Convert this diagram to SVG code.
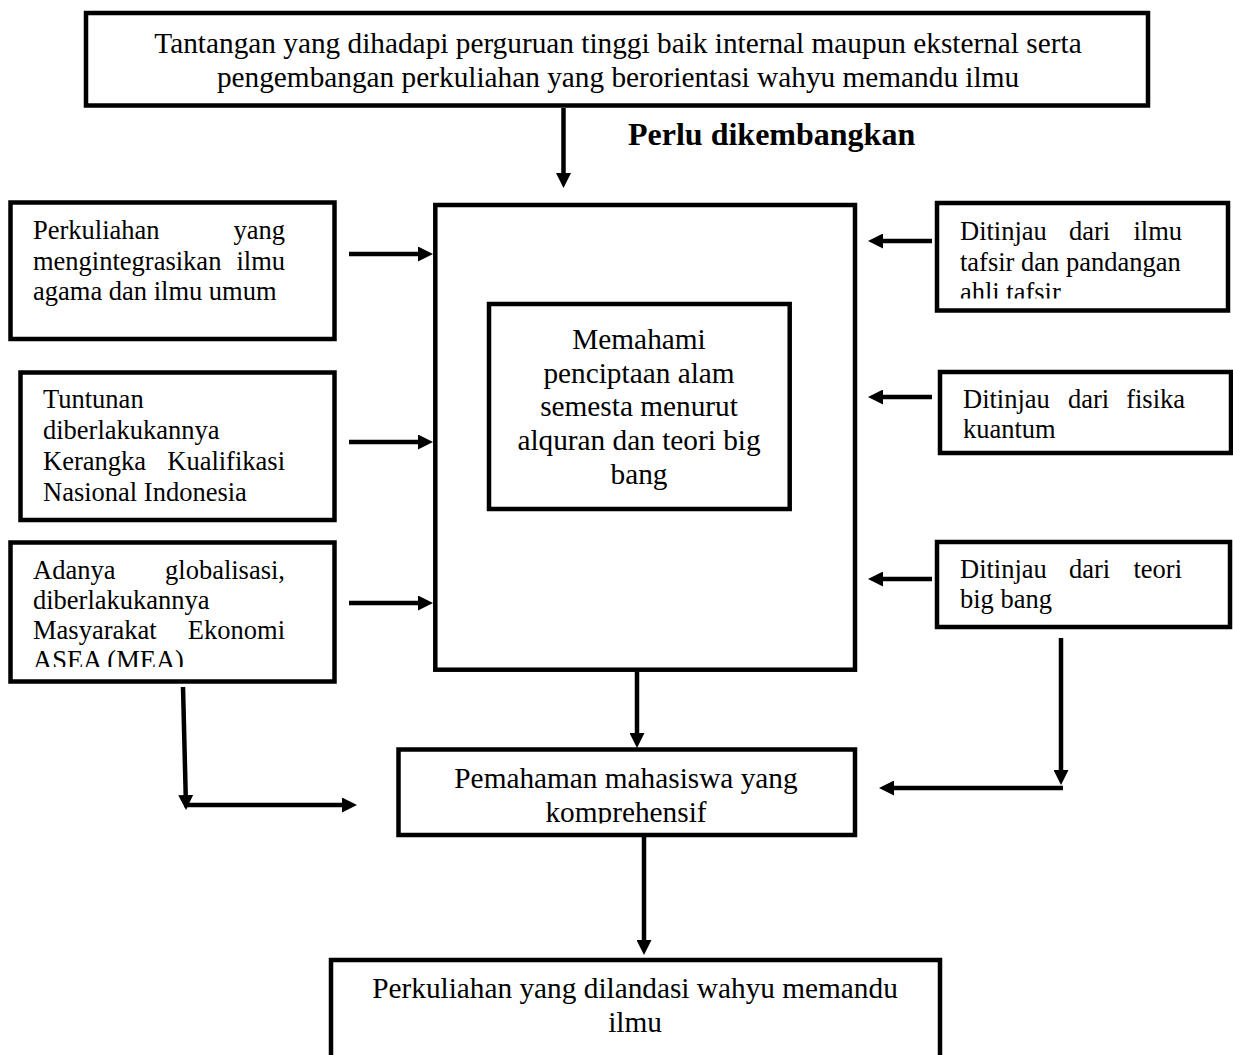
<svg xmlns="http://www.w3.org/2000/svg" width="1233" height="1055" viewBox="0 0 1233 1055">
<style>
.box{fill:none;stroke:#000;stroke-width:4.5}
.t{font-family:"Liberation Serif","Times New Roman",serif;fill:#000}
.s{font-size:26.5px}
.m{font-size:29.3px}
.b{font-size:32px;font-weight:bold}
.c{text-anchor:middle}
.e{text-anchor:end}
.con{fill:none;stroke:#000;stroke-width:4.5;marker-end:url(#ah)}
</style>
<defs>
<marker id="ah" markerUnits="userSpaceOnUse" markerWidth="15" markerHeight="15" viewBox="0 0 15 15" refX="0" refY="7.5" orient="auto">
<path d="M0,0 L15,7.5 L0,15 z" fill="#000"/>
</marker>
<clipPath id="clipR1"><rect x="930" y="190" width="303" height="108.5"/></clipPath>
<clipPath id="clipL3"><rect x="0" y="530" width="340" height="137"/></clipPath>
<clipPath id="clipP"><rect x="390" y="740" width="470" height="83.5"/></clipPath>
</defs>
<rect width="1233" height="1055" fill="#fff"/>

<g id="top">
<rect class="box" x="86" y="13" width="1062" height="92.5"/>
<text class="t m c" x="618" y="53">Tantangan yang dihadapi perguruan tinggi baik internal maupun eksternal serta</text>
<text class="t m c" x="618" y="87">pengembangan perkuliahan yang berorientasi wahyu memandu ilmu</text>
</g>

<g id="label-perlu">
<text class="t b" x="628" y="145">Perlu dikembangkan</text>
</g>

<g id="left1">
<rect class="box" x="10.5" y="202.5" width="324" height="136.5"/>
<text class="t s" x="33" y="239">Perkuliahan</text>
<text class="t s e" x="285" y="239">yang</text>
<text class="t s" x="33" y="270">mengintegrasikan</text>
<text class="t s e" x="285" y="270">ilmu</text>
<text class="t s" x="33" y="300">agama dan ilmu umum</text>
</g>

<g id="left2">
<rect class="box" x="20.5" y="372.5" width="314" height="147.5"/>
<text class="t s" x="43" y="408">Tuntunan</text>
<text class="t s" x="43" y="438.5">diberlakukannya</text>
<text class="t s" x="43" y="469.5">Kerangka</text>
<text class="t s e" x="285" y="469.5">Kualifikasi</text>
<text class="t s" x="43" y="501">Nasional Indonesia</text>
</g>

<g id="left3">
<rect class="box" x="10.5" y="542.5" width="324" height="139"/>
<text class="t s" x="33" y="578.5">Adanya</text>
<text class="t s e" x="285" y="578.5">globalisasi,</text>
<text class="t s" x="33" y="608.5">diberlakukannya</text>
<text class="t s" x="33" y="638.5">Masyarakat</text>
<text class="t s e" x="285" y="638.5">Ekonomi</text>
<text class="t s" x="33" y="668.5" clip-path="url(#clipL3)">ASEA (MEA)</text>
</g>

<g id="center">
<rect class="box" x="435.3" y="205" width="419.7" height="464.7"/>
</g>

<g id="inner">
<rect class="box" x="489" y="304" width="300.7" height="205"/>
<text class="t m c" x="639" y="348.5">Memahami</text>
<text class="t m c" x="639" y="382.5">penciptaan alam</text>
<text class="t m c" x="639" y="415.5">semesta menurut</text>
<text class="t m c" x="639" y="449.5">alquran dan teori big</text>
<text class="t m c" x="639" y="483.5">bang</text>
</g>

<g id="right1">
<rect class="box" x="937" y="203" width="291" height="107.5"/>
<text class="t s" x="960" y="240">Ditinjau</text>
<text class="t s" x="1069" y="240">dari</text>
<text class="t s e" x="1182" y="240">ilmu</text>
<text class="t s" x="960" y="270.5">tafsir dan pandangan</text>
<text class="t s" x="960" y="301" clip-path="url(#clipR1)">ahli tafsir</text>
</g>

<g id="right2">
<rect class="box" x="940" y="372" width="291" height="81"/>
<text class="t s" x="963" y="408">Ditinjau</text>
<text class="t s" x="1068" y="408">dari</text>
<text class="t s e" x="1185" y="408">fisika</text>
<text class="t s" x="963" y="438">kuantum</text>
</g>

<g id="right3">
<rect class="box" x="937" y="542" width="293" height="85"/>
<text class="t s" x="960" y="578">Ditinjau</text>
<text class="t s" x="1069" y="578">dari</text>
<text class="t s e" x="1182" y="578">teori</text>
<text class="t s" x="960" y="608">big bang</text>
</g>

<g id="pemahaman">
<rect class="box" x="398.5" y="749.5" width="456.5" height="85.5"/>
<text class="t m c" x="626" y="788">Pemahaman mahasiswa yang</text>
<text class="t m c" x="626" y="821.5" clip-path="url(#clipP)">komprehensif</text>
</g>

<g id="bottom">
<rect class="box" x="331" y="960" width="609" height="130"/>
<text class="t m c" x="635" y="998">Perkuliahan yang dilandasi wahyu memandu</text>
<text class="t m c" x="635" y="1032">ilmu</text>
</g>

<g id="connectors">
<path class="con" d="M563.5,108 V173"/>
<path class="con" d="M349,254 H418"/>
<path class="con" d="M349,442 H418"/>
<path class="con" d="M349,603 H418"/>
<path class="con" d="M932,241 H883"/>
<path class="con" d="M932,397 H883"/>
<path class="con" d="M932,579 H883"/>
<path class="con" d="M637,672 V733"/>
<path class="con" d="M183,687 L185.7,795"/>
<path class="con" d="M184,805 H342"/>
<path class="con" d="M1061,638 V770"/>
<path class="con" d="M1063,788 H894"/>
<path class="con" d="M644,837 V940"/>
</g>
</svg>
